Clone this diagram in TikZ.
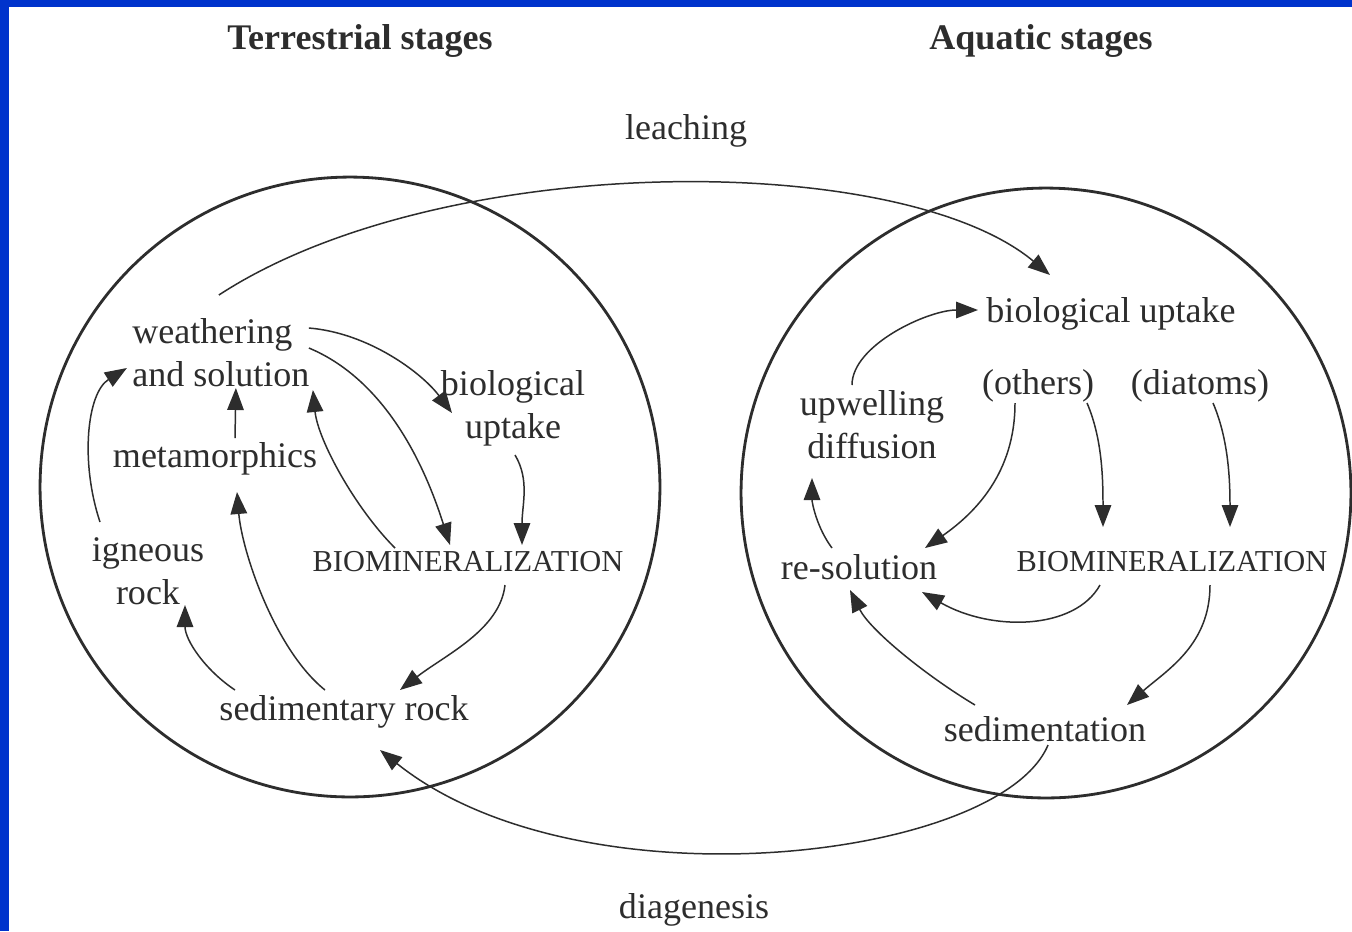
\documentclass[tikz,border=0pt]{standalone}
\usepackage{fontspec}
\setmainfont{Liberation Serif}
\usetikzlibrary{arrows.meta}
\definecolor{slideblue}{RGB}{0,51,204}
\definecolor{ink}{RGB}{45,45,45}

\begin{document}
\begin{tikzpicture}[
  x=0.02cm, y=-0.02cm,
  lbl/.style={text=ink,font=\fontsize{20.5}{24.5}\selectfont,inner sep=0pt,align=center},
  caps/.style={text=ink,font=\fontsize{17.3}{20}\selectfont,inner sep=0pt},
  ttl/.style={text=ink,font=\fontsize{20.5}{24}\selectfont\bfseries,inner sep=0pt},
  stage/.style={circle,draw=ink,line width=1.6pt,inner sep=0pt},
  flow/.style={draw=ink,line width=0.85pt,-{Triangle[length=0.44cm,width=0.33cm]}}
]
  % page and slide frame
  \useasboundingbox (0,0) rectangle (1352,931);
  \fill[white] (0,0) rectangle (1352,931);
  \fill[slideblue] (0,0) rectangle (1352,7);
  \fill[slideblue] (0,0) rectangle (9,931);

  \node[ttl] (tterr) at (360,41) {Terrestrial stages};
  \node[ttl] (taqua) at (1041,41) {Aquatic stages};
  \node[lbl] (leach) at (686,131) {leaching};
  \node[lbl] (diag) at (694,910) {diagenesis};

  \node[stage,minimum size=12.4cm] (landc) at (350,487) {};
  \node[stage,minimum size=12.2cm] (seac) at (1046,493) {};

  % terrestrial side
  \node[lbl,align=left,anchor=west] (wsol) at (132,353) {weathering\\and solution};
  \node[lbl] (bupl) at (513,408) {biological\\uptake};
  \node[lbl] (meta) at (215,459) {metamorphics};
  \node[lbl] (ign) at (148,571) {igneous\\rock};
  \node[caps] (bminl) at (468,562) {BIOMINERALIZATION};
  \node[lbl] (sedr) at (344,712) {sedimentary rock};

  % aquatic side
  \node[lbl] (bupr) at (1111,314) {biological uptake};
  \node[lbl] (upw) at (872,425) {upwelling\\diffusion};
  \node[lbl] (oth) at (1038,386) {(others)};
  \node[lbl] (diat) at (1200,386) {(diatoms)};
  \node[lbl] (resol) at (859,567) {re-solution};
  \node[caps] (bminr) at (1172,562) {BIOMINERALIZATION};
  \node[lbl] (sedim) at (1045,729) {sedimentation};

  \draw[flow] ([shift={(-2,-58)}]wsol.center) .. controls +(222,-145) and +(-150,-125) .. ([shift={(-61,-39)}]bupr.center);
  \draw[flow] ([shift={(88,-25)}]wsol.center) .. controls +(60,5) and +(-30,-40) .. ([shift={(-61,5)}]bupl.center);
  \draw[flow] ([shift={(88,-5)}]wsol.center) .. controls +(60,25) and +(-35,-110) .. ([shift={(-18,-17)}]bminl.center);
  \draw[flow] ([shift={(-73,-14)}]bminl.center) .. controls +(-40,-40) and +(5,50) .. ([shift={(92,37)}]wsol.center);
  \draw[flow] ([shift={(2,47)}]bupl.center) .. controls +(15,25) and +(0,-40) .. ([shift={(54,-17)}]bminl.center);
  \draw[flow] ([shift={(20,-21)}]meta.center) -- ([shift={(15,35)}]wsol.center);
  \draw[flow] ([shift={(-48,-49)}]ign.center) .. controls +(-20,-60) and +(-40,25) .. ([shift={(-94,15)}]wsol.center);
  \draw[flow] ([shift={(-19,-22)}]sedr.center) .. controls +(-50,-40) and +(5,60) .. ([shift={(22,33)}]meta.center);
  \draw[flow] ([shift={(-109,-22)}]sedr.center) .. controls +(-30,-20) and +(0,35) .. ([shift={(37,34)}]ign.center);
  \draw[flow] ([shift={(37,23)}]bminl.center) .. controls +(-5,45) and +(45,-35) .. ([shift={(56,-22)}]sedr.center);
  \draw[flow] ([shift={(3,16)}]sedim.center) .. controls +(-48,115) and +(200,160) .. ([shift={(36,38)}]sedr.center);

  \draw[flow] ([shift={(-20,-40)}]upw.center) .. controls +(0,-40) and +(-50,0) .. ([shift={(-133,-4)}]bupr.center);
  \draw[flow] ([shift={(-23,17)}]oth.center) .. controls +(0,70) and +(50,-35) .. ([shift={(66,-19)}]resol.center);
  \draw[flow] ([shift={(49,17)}]oth.center) .. controls +(15,35) and +(0,-50) .. ([shift={(-69,-35)}]bminr.center);
  \draw[flow] ([shift={(13,17)}]diat.center) .. controls +(15,35) and +(0,-50) .. ([shift={(58,-35)}]bminr.center);
  \draw[flow] ([shift={(-72,23)}]bminr.center) .. controls +(-25,45) and +(70,40) .. ([shift={(63,25)}]resol.center);
  \draw[flow] ([shift={(38,23)}]bminr.center) .. controls +(0,60) and +(40,-35) .. ([shift={(82,-24)}]sedim.center);
  \draw[flow] ([shift={(-70,-24)}]sedim.center) .. controls +(-50,-30) and +(20,40) .. ([shift={(-9,23)}]resol.center);
  \draw[flow] ([shift={(-27,-19)}]resol.center) .. controls +(-15,-20) and +(0,25) .. ([shift={(-60,53)}]upw.center);
\end{tikzpicture}
\end{document}
